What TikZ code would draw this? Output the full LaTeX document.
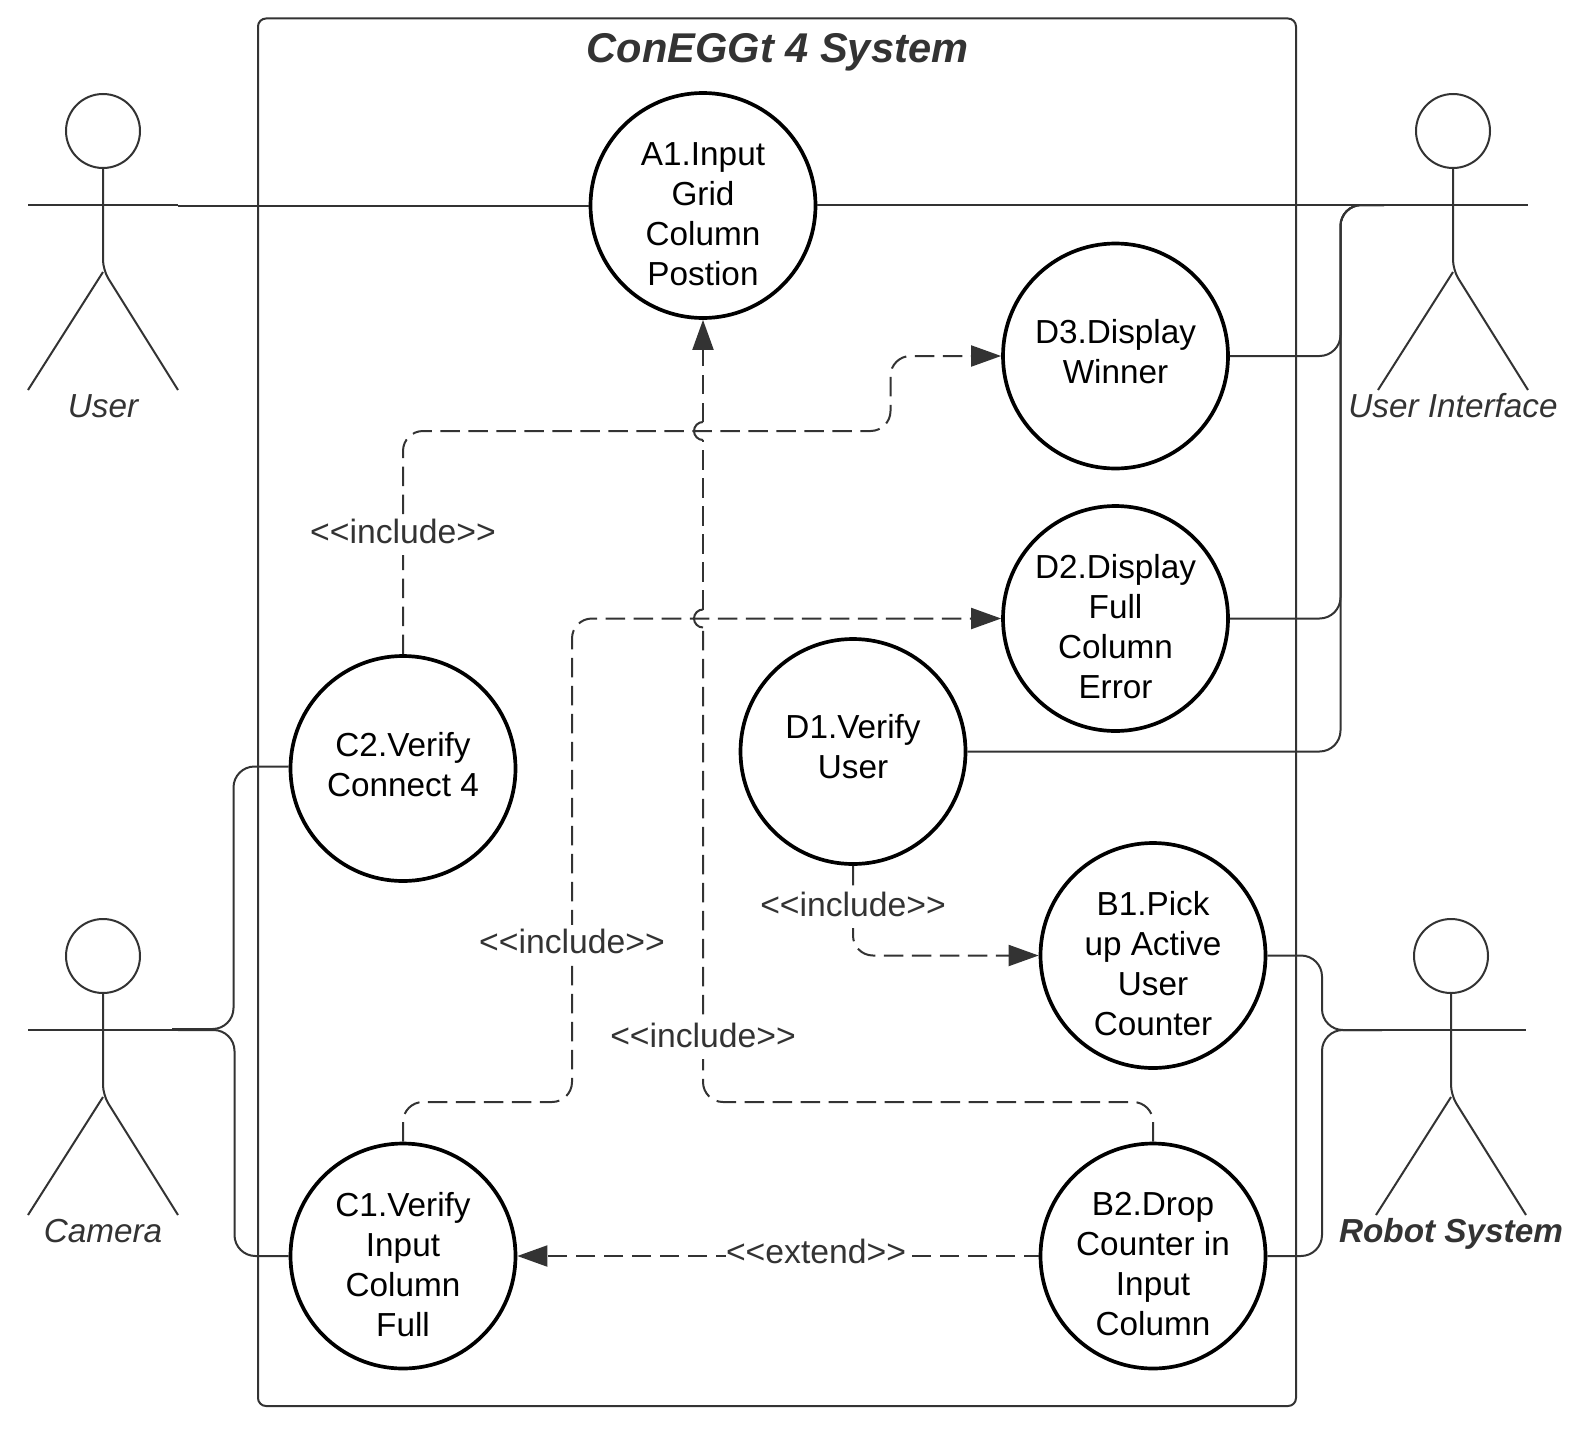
\documentclass[tikz,border=0pt]{standalone}
\usepackage{fontspec}
\setmainfont{Liberation Sans}
\usetikzlibrary{arrows.meta,calc}
\definecolor{ink}{HTML}{333333}
\tikzset{
  x=1pt,y=-1pt,
  uc/.style={circle,draw=black,line width=3.7pt,minimum size=225pt,inner sep=0pt,fill=white},
  uctext/.style={align=center,text=black,font=\fontsize{33.3}{40}\selectfont,inner sep=0pt,
    execute at begin node=\strut,execute at end node=\strut},
  four/.style={yshift=-14pt},
  two/.style={yshift=-1pt},
  link/.style={draw=ink,line width=2pt,rounded corners=21pt},
  thinlink/.style={draw=ink,line width=1.1pt},
  dashlink/.style={draw=ink,line width=2pt,rounded corners=20pt,dash pattern=on 19.5pt off 8.5pt},
  dasharrow/.style={dashlink,-{Triangle[length=30pt,width=21pt]}},
  hop/.style={draw=ink,line width=2pt},
  stereotype/.style={fill=white,text=ink,inner sep=0pt,font=\fontsize{33.7}{40}\selectfont,
    execute at begin node=\strut},
  actorpart/.style={draw=ink,line width=2pt},
  actorhead/.style={circle,draw=ink,line width=2pt,minimum size=74pt,inner sep=0pt},
  actorname/.style={text=ink,inner sep=0pt,font=\fontsize{33.3}{40}\selectfont\itshape,
    execute at begin node=\strut},
}
% name, x, head y
\newcommand{\stickfigure}[3]{%
  \node[actorhead] (#1H) at (#2,#3) {};
  \coordinate (#1AL) at ($(#1H)+(-75,74)$);
  \coordinate (#1AR) at ($(#1H)+(75,74)$);
  \coordinate (#1H2) at ($(#1H)+(0,139)$);
  \coordinate (#1FL) at ($(#1H)+(-75,259)$);
  \coordinate (#1FR) at ($(#1H)+(75,259)$);
  \draw[actorpart] (#1AL) -- (#1AR);
  \draw[actorpart,rounded corners=10pt] (#1H.south) -- (#1H2) -- (#1FR);
  \draw[actorpart] (#1FL) -- ($(#1H2)+(0,2)$);
}
\begin{document}
\begin{tikzpicture}
\useasboundingbox (0,0) rectangle (1584,1429);

\node[draw=ink,line width=2pt,rounded corners=8pt,minimum width=1038pt,minimum height=1387.5pt,inner sep=0pt] (frame) at (777,712.25) {};
\node[text=ink,font=\fontsize{41.6}{48}\selectfont\bfseries\itshape,inner sep=0pt] (title) at (777.5,52) {ConEGGt 4 System};

\stickfigure{u}{103}{131}
\stickfigure{i}{1453}{131}
\stickfigure{c}{103}{956}
\stickfigure{r}{1451}{956}

\node[actorname] (uname) at (103,409) {User};
\node[actorname] (iname) at (1453,409) {User Interface};
\node[actorname] (cname) at (103,1234) {Camera};
\node[actorname,font=\fontsize{33.3}{40}\selectfont\itshape\bfseries] (rname) at (1451,1234) {Robot System};

\node[uc,label={[uctext,four,yshift=-0.5pt,name=A1t]center:{A1.Input\\Grid\\Column\\Postion}}] (A1) at (703,205.5) {};
\node[uc,label={[uctext,two,yshift=-0.5pt,name=D3t]center:{D3.Display\\Winner}}] (D3) at (1115.5,356) {};
\node[uc,label={[uctext,four,name=D2t]center:{D2.Display\\Full\\Column\\Error}}] (D2) at (1115.5,618.5) {};
\node[uc,label={[uctext,two,name=D1t]center:{D1.Verify\\User}}] (D1) at (853,751.5) {};
\node[uc,label={[uctext,two,yshift=-0.5pt,name=C2t]center:{C2.Verify\\Connect 4}}] (C2) at (403,768.5) {};
\node[uc,label={[uctext,four,name=B1t]center:{B1.Pick\\up Active\\User\\Counter}}] (B1) at (1153,955.5) {};
\node[uc,label={[uctext,four,name=C1t]center:{C1.Verify\\Input\\Column\\Full}}] (C1) at (403,1256) {};
\node[uc,label={[uctext,four,name=B2t]center:{B2.Drop\\Counter in\\Input\\Column}}] (B2) at (1153,1256) {};

% actor associations
\coordinate (uend) at (178,205.5);
\draw[link] (uend) -- (A1.west);
\draw[thinlink] (A1.east |- iAL) -- (iAL);
\coordinate (iend) at (1384,205);
\draw[link] (D3.east) -- (1340.5,356) -- (1340.5,205) -- (iend);
\draw[link] (D2.east) -- (1340.5,618.5) -- (1340.5,205) -- (iend);
\draw[link] (D1.east) -- (1340.5,751.5) -- (1340.5,205) -- (iend);
\coordinate (cend1) at (172,1029);
\coordinate (cend2) at (178,1030);
\draw[link] (C2.179) -- (233.5,766.5) -- (233.5,1029) -- (cend1);
\draw[link] (C1.west) -- (234.5,1256) -- (234.5,1030) -- (cend2);
\coordinate (rend) at (1382,1030);
\draw[link] (B1.east) -- (1322,955.5) -- (1322,1030) -- (rend);
\draw[link] (B2.east) -- (1322,1256) -- (1322,1030) -- (rend);

% dependencies
\draw[dasharrow] (C2.north) -- (403,431) -- (890.5,431) -- (890.5,356) -- (D3.west);
\draw[dasharrow] (C1.north) -- (403,1102) -- (572,1102) -- (572,618.5) -- (D2.west);
\draw[dasharrow] (D1.south) -- (853,955.5) -- (B1.west);
\draw[dasharrow,dash phase=4.5pt] (B2.west) -- (C1.east);

\coordinate (hopAb) at (703,627.5);
\coordinate (hopAt) at (703,609.5);
\coordinate (hopBb) at (703,440);
\coordinate (hopBt) at (703,422);
\draw[dashlink] (B2.north) -- (1153,1102) -- (703,1102) -- (hopAb);
\draw[hop] (hopAb) arc[start angle=-90,end angle=-270,radius=9pt];
\draw[dashlink] (hopAt) -- (hopBb);
\draw[hop] (hopBb) arc[start angle=-90,end angle=-270,radius=9pt];
\draw[dasharrow] (hopBt) -- (A1.south);

% stereotypes
\node[stereotype] (incC2) at (403,535) {<{}<include>{}>};
\node[stereotype] (incC1) at (572,945) {<{}<include>{}>};
\node[stereotype] (incD1) at (853,908) {<{}<include>{}>};
\node[stereotype] (incB2) at (703,1039) {<{}<include>{}>};
\node[stereotype] (extB2) at (816,1255) {<{}<extend>{}>};
\end{tikzpicture}
\end{document}
